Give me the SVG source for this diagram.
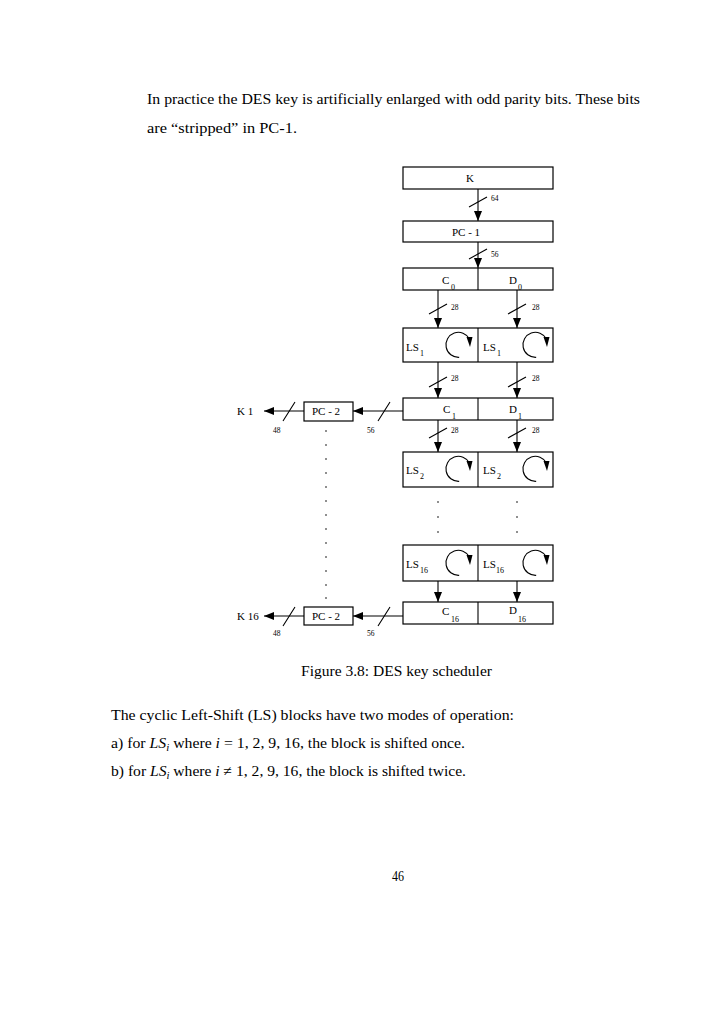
<svg xmlns="http://www.w3.org/2000/svg" width="728" height="1031" viewBox="0 0 728 1031">
<style>
.bx{fill:#fff;stroke:#000;stroke-width:1.2}
.ln{stroke:#000;stroke-width:1.1;fill:none}
.t{font-family:"Liberation Serif","DejaVu Serif",serif;font-size:11px;fill:#000}
.s{font-family:"Liberation Serif","DejaVu Serif",serif;font-size:8px;fill:#000}
.n{font-family:"Liberation Serif","DejaVu Serif",serif;font-size:7.5px;fill:#000}
.body{font-family:"Liberation Serif","DejaVu Serif",serif;font-size:14.5px;fill:#000}
.dot{fill:#000}
</style>
<defs>
<marker id="ah" markerUnits="userSpaceOnUse" markerWidth="10" markerHeight="8" refX="10" refY="4" orient="auto">
<path d="M0,0 L10,4 L0,8 z" fill="#000"/>
</marker>
<g id="rot">
<path d="M2.2,12.3 A12.5,12.5 0 1 1 12.5,-6" class="ln"/>
<path d="M9.5,-8 L15.5,-8 L13,2 z" fill="#000"/>
</g>
<path id="sl" d="M-9,5 L9,-5" class="ln"/>
</defs>

<rect width="728" height="1031" fill="#fff"/>

<text class="body" x="147" y="104" textLength="493" lengthAdjust="spacingAndGlyphs">In practice the DES key is artificially enlarged with odd parity bits.  These bits</text>
<text class="body" x="147" y="133" textLength="150" lengthAdjust="spacingAndGlyphs">are “stripped” in PC-1.</text>

<g id="connectors">
<line class="ln" x1="478" y1="189" x2="478" y2="221" marker-end="url(#ah)"/>
<line class="ln" x1="478" y1="242" x2="478" y2="268" marker-end="url(#ah)"/>
<line class="ln" x1="438" y1="290" x2="438" y2="328" marker-end="url(#ah)"/>
<line class="ln" x1="517" y1="290" x2="517" y2="328" marker-end="url(#ah)"/>
<line class="ln" x1="438" y1="362" x2="438" y2="398" marker-end="url(#ah)"/>
<line class="ln" x1="517" y1="362" x2="517" y2="398" marker-end="url(#ah)"/>
<line class="ln" x1="438" y1="420" x2="438" y2="452" marker-end="url(#ah)"/>
<line class="ln" x1="517" y1="420" x2="517" y2="452" marker-end="url(#ah)"/>
<line class="ln" x1="438" y1="581" x2="438" y2="602" marker-end="url(#ah)"/>
<line class="ln" x1="517" y1="581" x2="517" y2="602" marker-end="url(#ah)"/>
<line class="ln" x1="403" y1="411" x2="353" y2="411" marker-end="url(#ah)"/>
<line class="ln" x1="304" y1="411" x2="264" y2="411" marker-end="url(#ah)"/>
<line class="ln" x1="403" y1="616" x2="353" y2="616" marker-end="url(#ah)"/>
<line class="ln" x1="304" y1="616" x2="264" y2="616" marker-end="url(#ah)"/>
<use href="#sl" x="478" y="202"/>
<use href="#sl" x="478" y="254"/>
<use href="#sl" x="438" y="309"/>
<use href="#sl" x="517" y="309"/>
<use href="#sl" x="438" y="382"/>
<use href="#sl" x="517" y="382"/>
<use href="#sl" x="438" y="433"/>
<use href="#sl" x="517" y="433"/>
<path class="ln" d="M283,421 L295,402 M378,421 L390,402 M283,626 L295,607 M378,626 L390,607"/>
<text class="n" x="491" y="201">64</text>
<text class="n" x="491" y="257">56</text>
<text class="n" x="451" y="310">28</text>
<text class="n" x="532" y="310">28</text>
<text class="n" x="451" y="381">28</text>
<text class="n" x="532" y="381">28</text>
<text class="n" x="451" y="433">28</text>
<text class="n" x="532" y="433">28</text>
<text class="n" x="273" y="433">48</text>
<text class="n" x="367" y="433">56</text>
<text class="n" x="273" y="636">48</text>
<text class="n" x="367" y="636">56</text>
<g class="dot">
<circle cx="438" cy="502" r="0.8"/><circle cx="438" cy="517" r="0.8"/><circle cx="438" cy="532" r="0.8"/>
<circle cx="517" cy="502" r="0.8"/><circle cx="517" cy="517" r="0.8"/><circle cx="517" cy="532" r="0.8"/>
<circle cx="326" cy="431" r="0.8"/><circle cx="326" cy="445" r="0.8"/><circle cx="326" cy="459" r="0.8"/>
<circle cx="326" cy="473" r="0.8"/><circle cx="326" cy="487" r="0.8"/><circle cx="326" cy="501" r="0.8"/>
<circle cx="326" cy="515" r="0.8"/><circle cx="326" cy="529" r="0.8"/><circle cx="326" cy="543" r="0.8"/>
<circle cx="326" cy="557" r="0.8"/><circle cx="326" cy="571" r="0.8"/><circle cx="326" cy="585" r="0.8"/>
<circle cx="326" cy="598" r="0.8"/>
</g>
</g>

<g id="K">
<rect class="bx" x="403" y="167" width="150" height="22"/>
<text class="t" x="466" y="182">K</text>
</g>
<g id="PC1">
<rect class="bx" x="403" y="221" width="150" height="21"/>
<text class="t" x="452" y="236">PC - 1</text>
</g>
<g id="C0D0">
<rect class="bx" x="403" y="268" width="150" height="22"/>
<line class="ln" x1="478" y1="268" x2="478" y2="290"/>
<text class="t" x="442" y="284">C</text><text class="s" x="451" y="290">0</text>
<text class="t" x="509" y="284">D</text><text class="s" x="518" y="290">0</text>
</g>
<g id="LS1">
<rect class="bx" x="403" y="328" width="150" height="34"/>
<line class="ln" x1="478" y1="328" x2="478" y2="362"/>
<text class="t" x="406" y="351">LS</text><text class="s" x="420" y="356">1</text>
<text class="t" x="483" y="351">LS</text><text class="s" x="497" y="356">1</text>
<use href="#rot" x="457" y="345"/>
<use href="#rot" x="534" y="345"/>
</g>
<g id="C1D1">
<rect class="bx" x="403" y="398" width="150" height="22"/>
<line class="ln" x1="478" y1="398" x2="478" y2="420"/>
<text class="t" x="443" y="413">C</text><text class="s" x="452" y="419">1</text>
<text class="t" x="509" y="413">D</text><text class="s" x="518" y="419">1</text>
</g>
<g id="PC2a">
<rect class="bx" x="304" y="402" width="49" height="19"/>
<text class="t" x="312" y="415">PC - 2</text>
</g>
<g id="K1">
<text class="t" x="237" y="415">K 1</text>
</g>
<g id="LS2">
<rect class="bx" x="403" y="452" width="150" height="35"/>
<line class="ln" x1="478" y1="452" x2="478" y2="487"/>
<text class="t" x="406" y="474">LS</text><text class="s" x="420" y="479">2</text>
<text class="t" x="483" y="474">LS</text><text class="s" x="497" y="479">2</text>
<use href="#rot" x="457" y="469"/>
<use href="#rot" x="534" y="469"/>
</g>
<g id="LS16">
<rect class="bx" x="403" y="545" width="150" height="36"/>
<line class="ln" x1="478" y1="545" x2="478" y2="581"/>
<text class="t" x="406" y="568">LS</text><text class="s" x="420" y="573">16</text>
<text class="t" x="483" y="568">LS</text><text class="s" x="496" y="573">16</text>
<use href="#rot" x="457" y="563"/>
<use href="#rot" x="534" y="563"/>
</g>
<g id="C16D16">
<rect class="bx" x="403" y="602" width="150" height="22"/>
<line class="ln" x1="478" y1="602" x2="478" y2="624"/>
<text class="t" x="442" y="615">C</text><text class="s" x="451" y="622">16</text>
<text class="t" x="509" y="614">D</text><text class="s" x="518" y="622">16</text>
</g>
<g id="PC2b">
<rect class="bx" x="304" y="607" width="49" height="18"/>
<text class="t" x="312" y="620">PC - 2</text>
</g>
<g id="K16">
<text class="t" x="237" y="620">K 16</text>
</g>

<text class="body" x="301" y="676" textLength="191" lengthAdjust="spacingAndGlyphs">Figure 3.8: DES key scheduler</text>
<text class="body" x="111" y="720" textLength="403" lengthAdjust="spacingAndGlyphs">The cyclic Left-Shift (LS) blocks have two modes of operation:</text>
<text class="body" x="111" y="748" textLength="354" lengthAdjust="spacingAndGlyphs">a) for <tspan font-style="italic">LS</tspan><tspan font-style="italic" font-size="10" dy="3">i</tspan><tspan dy="-3"> where </tspan><tspan font-style="italic">i</tspan> = 1, 2, 9, 16, the block is shifted once.</text>
<text class="body" x="111" y="776" textLength="355" lengthAdjust="spacingAndGlyphs">b) for <tspan font-style="italic">LS</tspan><tspan font-style="italic" font-size="10" dy="3">i</tspan><tspan dy="-3"> where </tspan><tspan font-style="italic">i</tspan> ≠ 1, 2, 9, 16, the block is shifted twice.</text>
<text class="body" x="392" y="881" textLength="12" lengthAdjust="spacingAndGlyphs">46</text>
</svg>
